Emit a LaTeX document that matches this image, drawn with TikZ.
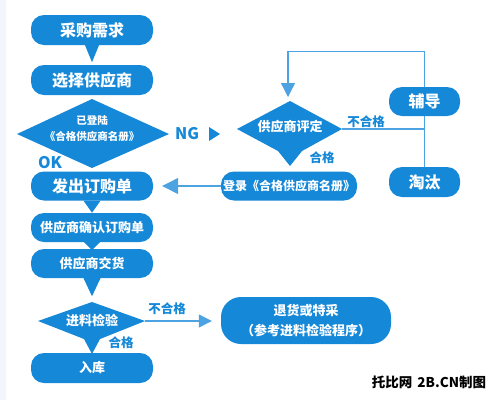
\documentclass[tikz,border=0pt]{standalone}
\usepackage{fontspec}
\setmainfont{Noto Sans CJK SC}
\usetikzlibrary{arrows.meta,calc}
\definecolor{bl}{HTML}{1688D8}
\definecolor{ln}{HTML}{4DA3E2}
\definecolor{strip}{HTML}{F2F5F9}
\tikzset{
  box/.style={fill=bl, rounded corners=13pt, text=white, inner sep=0pt, font=\bfseries\fontsize{16}{18}\selectfont},
  boxs/.style={box, font=\bfseries\fontsize{13}{15}\selectfont},
  dtxt/.style={text=white, inner sep=0pt, align=center, font=\bfseries\fontsize{13}{15}\selectfont},
  lbl/.style={text=bl, inner sep=0pt, font=\bfseries\fontsize{12.5}{14}\selectfont},
  conn/.style={draw=ln, line width=1.3pt},
  tip/.style={-{Triangle[length=#1,width=#1]}},
}
\begin{document}
\begin{tikzpicture}[x=1pt,y=-1pt]
\useasboundingbox (0,0) rectangle (494,400);
\fill[white] (0,0) rectangle (494,400);
\fill[strip] (0,0) rectangle (6,400);

% left column boxes
\node[box, minimum width=122pt, minimum height=30pt] (n1) at (92,30) {采购需求};
\node[box, minimum width=122pt, minimum height=30pt] (n2) at (92,80) {选择供应商};
\node[box, minimum width=122pt, minimum height=29pt] (n3) at (92,186) {发出订购单};
\node[boxs, minimum width=122pt, minimum height=29pt] (n4) at (92,227.5) {供应商确认订购单};
\node[boxs, minimum width=122pt, minimum height=29pt] (n5) at (92,263.5) {供应商交货};
\node[boxs, minimum width=122pt, minimum height=30pt] (n6) at (92,368) {入库};

% diamond 1
\coordinate (d1n) at (92,99); \coordinate (d1e) at (169,134);
\coordinate (d1s) at (92,168); \coordinate (d1w) at (17,134);
\fill[bl] (d1n) -- (d1e) -- (d1s) -- (d1w) -- cycle;
\node[dtxt, font=\bfseries\fontsize{10.5}{16}\selectfont] (d1) at (92,129) {已登陆\\《合格供应商名册》};

% diamond 2
\coordinate (d2n) at (92,302); \coordinate (d2e) at (145,321);
\coordinate (d2s) at (92,354); \coordinate (d2w) at (38,321);
\fill[bl] (d2n) -- (d2e) -- (100,339) -- (d2s) -- (84,339) -- (d2w) -- cycle;
\node[dtxt] (d2) at (92,320) {进料检验};

% diamond 3
\coordinate (d3n) at (290,101); \coordinate (d3e) at (342,129);
\coordinate (d3s) at (290,166); \coordinate (d3w) at (237,129);
\fill[bl] (d3n) -- (d3e) -- (302,151) -- (d3s) -- (278,151) -- (d3w) -- cycle;
\node[dtxt] (d3) at (290,127) {供应商评定};

% right boxes
\node[box, font=\bfseries\fontsize{12}{14}\selectfont, minimum width=136pt, minimum height=29pt] (n7) at (289,186) {登录《合格供应商名册》};
\node[box, minimum width=71pt, minimum height=29pt] (n8) at (424.5,101.5) {辅导};
\node[box, minimum width=71pt, minimum height=30pt] (n9) at (424.5,182) {淘汰};
\node[box, rounded corners=20pt, align=center, font=\bfseries\fontsize{13}{20}\selectfont, minimum width=170pt, minimum height=47pt] (n10) at (306,320.5) {退货或特采\\（参考进料检验程序）};

% pointer triangles
\fill[bl] ($(n1.south)+(-7,0)$) -- ($(n1.south)+(7,0)$) -- ($(n1.south)+(0,17)$) -- cycle;
\fill[bl] ($(n3.south)+(-8.5,0)$) -- ($(n3.south)+(8.5,0)$) -- ($(n3.south)+(0,12)$) -- cycle;
\fill[bl] ($(n4.south)+(-8,0)$) -- ($(n4.south)+(8,0)$) -- ($(n4.south)+(0,8)$) -- cycle;
\fill[bl] ($(n5.south)+(-8.5,0)$) -- ($(n5.south)+(8.5,0)$) -- ($(n5.south)+(0,18)$) -- cycle;

% NG pointer
\coordinate (ng) at (209,134);
\fill[bl] ($(ng)+(0,-7)$) -- ($(ng)+(11,0)$) -- ($(ng)+(0,7)$) -- cycle;
\node[lbl, font=\bfseries\fontsize{16}{18}\selectfont] (lng) at (187,134) {NG};
\node[lbl, font=\bfseries\fontsize{16}{18}\selectfont] (lok) at (50,163) {OK};

% connectors
\draw[conn, tip=14pt] (n8.north) -- ++(0,-35) -| ($(d3n)+(-2,-4)$);
\draw[conn] (d3e) -- (d3e -| n8.south);
\draw[conn] (n8.south) -- (n9.north);
\draw[conn, tip=16pt] (n7.west) -- ($(n3.east)+(9,0)$);
\draw[conn, tip=13pt] (d2e) -- ($(n10.west)+(-9,0.5)$);

% labels
\node[lbl] (l1) at (366,122) {不合格};
\node[lbl] (l2) at (322,158) {合格};
\node[lbl] (l3) at (167,309) {不合格};
\node[lbl] (l4) at (121,343) {合格};

\node[text=black, inner sep=0pt, font=\bfseries\fontsize{13.5}{15}\selectfont] (wm) at (429,382) {托比网\hspace{5pt}2B.CN制图};
\end{tikzpicture}
\end{document}
